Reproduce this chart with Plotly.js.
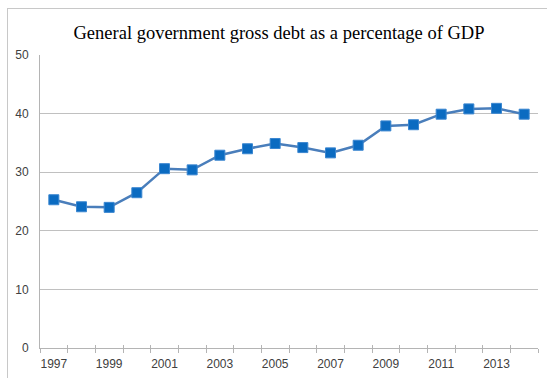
<!DOCTYPE html>
<html>
<head>
<meta charset="utf-8">
<script src="https://cdn.plot.ly/plotly-3.0.1.min.js"></script>
<style>
  html, body { margin: 0; padding: 0; background: #ffffff; }
  #frame { position: absolute; left: 0; top: 0; width: 547px; height: 378px; overflow: hidden; }
  #border { position: absolute; left: 7px; top: 8px; width: 560px; height: 400px;
            border-left: 1px solid #c8c8c8; border-top: 1px solid #c8c8c8; pointer-events: none; }
  #chart { position: absolute; left: 0; top: 0; width: 547px; height: 378px; }
</style>
</head>
<body>
<div id="frame">
  <div id="chart"></div>
  <div id="border"></div>
</div>
<script>
const years = [1997, 1998, 1999, 2000, 2001, 2002, 2003, 2004, 2005, 2006, 2007, 2008, 2009, 2010, 2011, 2012, 2013, 2014];
const debtPct = [25.3, 24.1, 24.0, 26.5, 30.6, 30.4, 32.9, 34.0, 34.9, 34.2, 33.3, 34.6, 37.9, 38.1, 39.9, 40.8, 40.9, 39.9];
const labelYears = [1997, 1999, 2001, 2003, 2005, 2007, 2009, 2011, 2013];
const yTicks = [0, 10, 20, 30, 40, 50];
const titleText = "General government gross debt as a percentage of GDP";

const boundaries = years.map(y => y - 0.5).concat([years[years.length - 1] + 0.5]);
const xRange = [years[0] - 0.5, years[years.length - 1] + 0.5];
const axisGray = "#b4b4b4";

const trace = {
  x: years,
  y: debtPct,
  type: "scatter",
  mode: "lines+markers",
  line: { color: "#4a7ebb", width: 2.5 },
  marker: { symbol: "square", size: 10, color: "#0b6bc1", line: { color: "#3a86d0", width: 1 } },
  hoverinfo: "x+y"
};

const layout = {
  width: 547,
  height: 378,
  margin: { l: 40, r: 9, t: 55, b: 30 },
  paper_bgcolor: "rgba(0,0,0,0)",
  plot_bgcolor: "#ffffff",
  showlegend: false,
  title: {
    text: titleText,
    font: { family: "Liberation Serif, Times New Roman, serif", size: 18.5, color: "#000000" },
    x: 0.51, xanchor: "center", xref: "container",
    y: 0.915, yanchor: "middle", yref: "container"
  },
  xaxis: {
    range: xRange,
    tickmode: "array",
    tickvals: labelYears,
    ticktext: labelYears.map(String),
    ticks: "",
    showgrid: false,
    zeroline: false,
    showline: true,
    linecolor: axisGray,
    linewidth: 1,
    tickfont: { family: "Liberation Sans, Arial, sans-serif", size: 12, color: "#404040" },
    ticklabelstandoff: 5,
    minor: { tickmode: "array", tickvals: boundaries, ticks: "outside", ticklen: 4, tickcolor: axisGray, tickwidth: 1, showgrid: false }
  },
  xaxis2: {
    overlaying: "x",
    anchor: "y",
    matches: "x",
    range: xRange,
    tickmode: "array",
    tickvals: boundaries,
    ticks: "inside",
    ticklen: 3,
    tickcolor: axisGray,
    showticklabels: false,
    showgrid: false,
    zeroline: false,
    showline: false
  },
  yaxis: {
    range: [0, 50],
    tickmode: "array",
    tickvals: yTicks,
    ticks: "",
    showgrid: true,
    gridcolor: "#c0c0c0",
    gridwidth: 1,
    zeroline: false,
    showline: true,
    linecolor: axisGray,
    linewidth: 1,
    tickfont: { family: "Liberation Sans, Arial, sans-serif", size: 12, color: "#404040" },
    ticklabelstandoff: 8
  }
};

const ghost = { x: xRange, y: [null, null], xaxis: "x2", yaxis: "y", type: "scatter", mode: "lines", hoverinfo: "skip", showlegend: false };

Plotly.newPlot("chart", [trace, ghost], layout, { displayModeBar: false, staticPlot: true });
</script>
</body>
</html>
